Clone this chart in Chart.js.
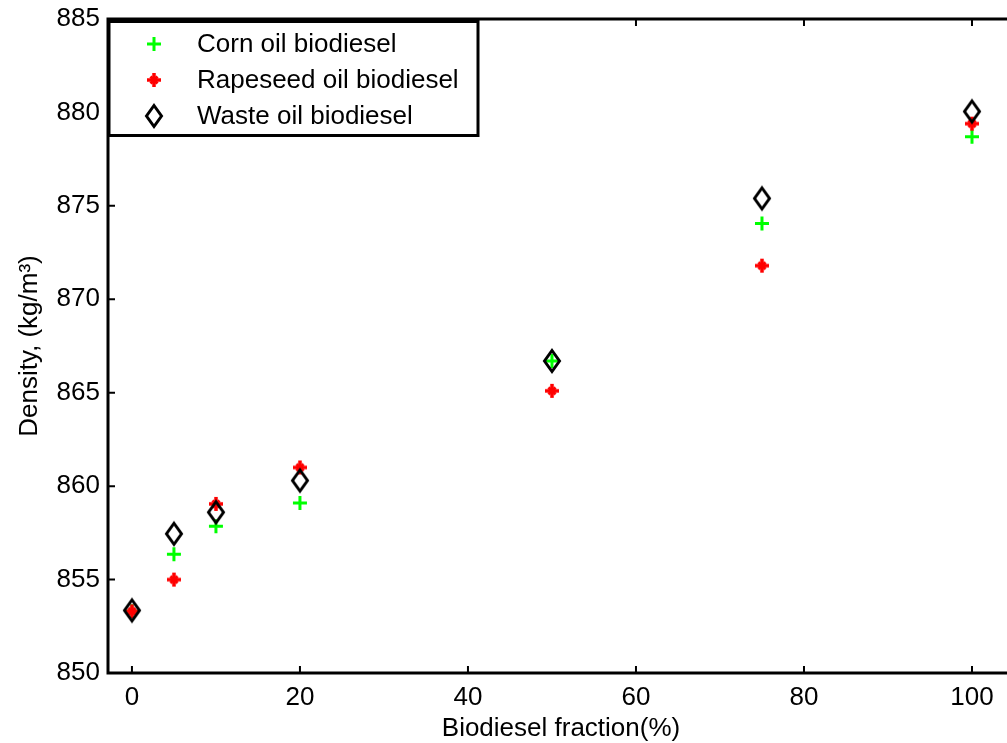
<!DOCTYPE html>
<html lang="en">
<head>
<meta charset="UTF-8">
<script src="https://cdn.jsdelivr.net/npm/chart.js"></script>
<style>
  html, body { margin: 0; padding: 0; background: #fff; overflow: hidden; }
  #wrap { width: 1020px; height: 743px; }
</style>
</head>
<body>
<div id="wrap"><canvas id="densityChart" width="1020" height="743"></canvas></div>
<script>
// Data
const fractions = [0, 5, 10, 20, 50, 75, 100];
const cornOil = [853.3, 856.35, 857.85, 859.1, 866.7, 874.05, 878.7];
const rapeseedOil = [853.3, 855.0, 859.05, 861.0, 865.1, 871.8, 879.4];
const wasteOil = [853.35, 857.45, 858.6, 860.3, 866.7, 875.4, 880.05];
const seriesNames = ['Corn oil biodiesel', 'Rapeseed oil biodiesel', 'Waste oil biodiesel'];
const xTicks = [0, 20, 40, 60, 80, 100];
const yTicks = [850, 855, 860, 865, 870, 875, 880, 885];

const FONT = "'Liberation Sans', Arial, Helvetica, sans-serif";
Chart.defaults.color = '#000';
Chart.defaults.font.family = FONT;

// open diamond marker, a bit taller than wide like the matlab one
function makeDiamond() {
  const c = document.createElement('canvas');
  c.width = 22; c.height = 28;
  const g = c.getContext('2d');
  g.strokeStyle = '#000';
  g.lineWidth = 3;
  g.lineJoin = 'miter';
  g.beginPath();
  g.moveTo(11, 3.5);
  g.lineTo(18.5, 14);
  g.lineTo(11, 24.5);
  g.lineTo(3.5, 14);
  g.closePath();
  g.stroke();
  return c;
}
// red asterisk: thick plus with short diagonals
function makeAsterisk() {
  const c = document.createElement('canvas');
  c.width = 18; c.height = 18;
  const g = c.getContext('2d');
  g.strokeStyle = '#ff0000';
  g.lineCap = 'butt';
  g.lineWidth = 3.5;
  g.beginPath();
  g.moveTo(2, 9); g.lineTo(16, 9);
  g.moveTo(9, 2); g.lineTo(9, 16);
  g.stroke();
  g.lineWidth = 3;
  g.beginPath();
  g.moveTo(5.5, 5.5); g.lineTo(12.5, 12.5);
  g.moveTo(12.5, 5.5); g.lineTo(5.5, 12.5);
  g.stroke();
  return c;
}
const diamond = makeDiamond();
const asterisk = makeAsterisk();

function toPoints(ys) {
  return fractions.map((x, i) => ({ x: x, y: ys[i] }));
}

// box around plot + inward ticks on all four sides
const frameTicks = {
  id: 'frameTicks',
  afterDatasetsDraw(chart) {
    const { ctx, chartArea: a, scales } = chart;
    const len = 7;
    ctx.save();
    ctx.strokeStyle = '#000';
    ctx.lineWidth = 2;
    ctx.beginPath();
    scales.x.ticks.forEach(t => {
      const px = scales.x.getPixelForValue(t.value);
      ctx.moveTo(px, a.bottom); ctx.lineTo(px, a.bottom - len);
      ctx.moveTo(px, a.top); ctx.lineTo(px, a.top + len);
    });
    scales.y.ticks.forEach(t => {
      const py = scales.y.getPixelForValue(t.value);
      ctx.moveTo(a.left, py); ctx.lineTo(a.left + len, py);
      ctx.moveTo(a.right, py); ctx.lineTo(a.right - len, py);
    });
    ctx.stroke();
    ctx.lineWidth = 3;
    ctx.strokeRect(a.left, a.top, a.right - a.left, a.bottom - a.top);
    ctx.restore();
  }
};

// legend box in the upper left corner
const boxLegend = {
  id: 'boxLegend',
  afterDraw(chart) {
    const { ctx, chartArea: a } = chart;
    const rows = [44, 80, 116];
    ctx.save();
    ctx.fillStyle = '#fff';
    ctx.fillRect(a.left, a.top + 2, 370, 115);
    ctx.strokeStyle = '#000';
    ctx.lineWidth = 3;
    ctx.strokeRect(a.left + 1, a.top + 2.5, 369, 114);
    chart.data.datasets.forEach((ds, i) => {
      ctx.save();
      ctx.strokeStyle = ds.borderColor;
      ctx.fillStyle = ds.backgroundColor;
      ctx.lineWidth = ds.borderWidth;
      Chart.helpers.drawPoint(ctx, {
        pointStyle: ds.pointStyle, radius: ds.pointRadius, rotation: 0, borderWidth: ds.borderWidth
      }, 154, rows[i]);
      ctx.restore();
      ctx.fillStyle = '#000';
      ctx.font = '26px ' + FONT;
      ctx.textBaseline = 'middle';
      ctx.textAlign = 'left';
      ctx.fillText(ds.label, 197, rows[i] + 1);
    });
    ctx.restore();
  }
};

const ctx = document.getElementById('densityChart').getContext('2d');
new Chart(ctx, {
  type: 'scatter',
  data: {
    datasets: [
      {
        label: seriesNames[0], data: toPoints(cornOil), order: 2,
        pointStyle: 'cross', pointRadius: 7, borderWidth: 3,
        borderColor: '#00ff00', backgroundColor: '#00ff00'
      },
      {
        label: seriesNames[1], data: toPoints(rapeseedOil), order: 1,
        pointStyle: asterisk, pointRadius: 8, borderWidth: 3,
        borderColor: '#ff0000', backgroundColor: '#ff0000'
      },
      {
        label: seriesNames[2], data: toPoints(wasteOil), order: 0,
        pointStyle: diamond, pointRadius: 10, borderWidth: 3,
        borderColor: '#000', backgroundColor: 'rgba(0,0,0,0)'
      }
    ]
  },
  options: {
    responsive: false,
    animation: false,
    layout: { autoPadding: false, padding: { top: 19, right: 6, left: 0, bottom: 0 } },
    plugins: {
      legend: { display: false },
      tooltip: { enabled: false }
    },
    scales: {
      x: {
        type: 'linear',
        min: -2.85,
        max: 105,
        afterBuildTicks: s => { s.ticks = xTicks.map(v => ({ value: v })); },
        afterFit: s => { s.height = 70; s.paddingLeft = 0; s.paddingRight = 0; },
        grid: { display: false, drawTicks: false },
        border: { display: false },
        ticks: { font: { size: 26 }, padding: 9, color: '#000' },
        title: {
          display: true, text: 'Biodiesel fraction(%)',
          font: { size: 26, lineHeight: 1.1 }, color: '#000', padding: { top: 0, bottom: 0 }
        }
      },
      y: {
        type: 'linear',
        min: 850,
        max: 885,
        afterBuildTicks: s => { s.ticks = yTicks.map(v => ({ value: v })); },
        afterFit: s => { s.width = 108; s.paddingTop = 0; s.paddingBottom = 0; },
        grid: { display: false, drawTicks: false },
        border: { display: false },
        ticks: { font: { size: 26 }, padding: 8, color: '#000' },
        title: {
          display: true, text: 'Density, (kg/m³)',
          font: { size: 26 }, color: '#000', padding: { top: 14, bottom: 0 }
        }
      }
    }
  },
  plugins: [frameTicks, boxLegend]
});
</script>
</body>
</html>
